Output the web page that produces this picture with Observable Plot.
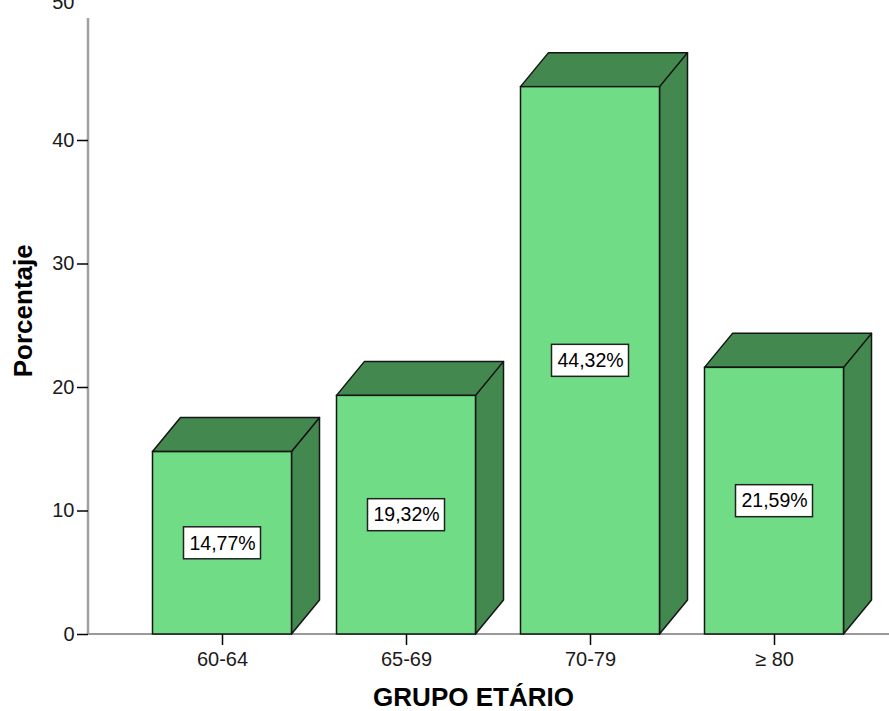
<!DOCTYPE html>
<html><head><meta charset="utf-8">
<script src="https://cdn.jsdelivr.net/npm/d3@7"></script>
<script src="https://cdn.jsdelivr.net/npm/@observablehq/plot@0.6"></script>
<style>body{margin:0;background:#fff;} #chart svg{overflow:hidden;display:block}</style>
</head><body><div id="chart"></div>
<script>
const categories = ["60-64", "65-69", "70-79", "≥ 80"];
const percentages = [14.77, 19.32, 44.32, 21.59];
const yTicks = [0, 10, 20, 30, 40];
const yTopTick = [50];
const xLabel = "GRUPO ETÁRIO";
const yLabel = "Porcentaje";

const data = categories.map((c, i) => ({grupo: c, pct: percentages[i]}));
const fmt = v => d3.format(".2f")(v).replace(".", ",") + "%";

const FRONT = "#70dc86", DARK = "#43894f", EDGE = "#151515";
const DX = 28, DY = 34, INSET = 22.5;
const FONT = "Arial, 'Liberation Sans', sans-serif";

function axisLines(index, scales, values, dims) {
  const {y} = scales;
  const g = d3.create("svg:g");
  g.append("line").attr("x1", dims.marginLeft).attr("x2", dims.width)
    .attr("y1", y(0)).attr("y2", y(0)).attr("stroke", "#9a9a9a").attr("stroke-width", 2);
  g.append("line").attr("x1", dims.marginLeft).attr("x2", dims.marginLeft)
    .attr("y1", y(50) + 1.5).attr("y2", y(0)).attr("stroke", "#a0a0a0").attr("stroke-width", 2.5);
  return g.node();
}

function faces(index, scales) {
  const {x, y} = scales;
  const bw = x.bandwidth();
  const g = d3.create("svg:g").attr("fill", DARK).attr("stroke", EDGE)
    .attr("stroke-width", 1.5).attr("stroke-linejoin", "round");
  const y0 = y(0);
  for (const d of data) {
    const x1 = x(d.grupo) + INSET, x2 = x(d.grupo) + bw - INSET, y1 = y(d.pct);
    g.append("path").attr("d", `M${x2},${y0}L${x2 + DX},${y0 - DY}L${x2 + DX},${y1 - DY}L${x2},${y1}Z`);
    g.append("path").attr("d", `M${x1},${y1}L${x1 + DX},${y1 - DY}L${x2 + DX},${y1 - DY}L${x2},${y1}Z`);
  }
  return g.node();
}

function boxes(index, scales) {
  const {x, y} = scales;
  const bw = x.bandwidth();
  const g = d3.create("svg:g").attr("fill", "#fff").attr("stroke", "#222").attr("stroke-width", 1.5);
  for (const d of data) {
    const cx = x(d.grupo) + bw / 2, cy = y(d.pct / 2);
    g.append("rect").attr("x", cx - 38.5).attr("y", cy - 16).attr("width", 77).attr("height", 32);
  }
  return g.node();
}

const chart = Plot.plot({
  width: 889,
  height: 711,
  marginLeft: 88,
  marginRight: 0,
  marginTop: 16.5,
  marginBottom: 77,
  style: {fontFamily: FONT, fontSize: "20px", color: "#000", background: "#fff"},
  x: {domain: categories, range: [129.5, 866.7], padding: 0},
  y: {domain: [0, 50]},
  marks: [
    axisLines,
    faces,
    Plot.barY(data, {x: "grupo", y: "pct", fill: FRONT, stroke: EDGE, strokeWidth: 1.5, insetLeft: INSET, insetRight: INSET}),
    boxes,
    Plot.text(data, {x: "grupo", y: d => d.pct / 2, text: d => fmt(d.pct), fontSize: 19.5, fill: "#000"}),
    Plot.axisY({ticks: yTicks, tickSize: 11, tickPadding: 3, label: null, fontSize: 20, stroke: "#000", strokeWidth: 1.5, fill: "#1a1a1a"}),
    Plot.text(yTopTick, {y: d => d, text: d => String(d), frameAnchor: "left", dx: -14, dy: -14, textAnchor: "end", fontSize: 20, fill: "#1a1a1a"}),
    Plot.axisX({tickSize: 11, tickPadding: 6, label: null, fontSize: 20, stroke: "#000", strokeWidth: 1.5, fill: "#1a1a1a"}),
    Plot.text([xLabel], {text: d => d, frameAnchor: "bottom", textAnchor: "middle", lineAnchor: "middle", dx: -15.5, dy: 63, fontWeight: "bold", fontSize: 26, fill: "#000"}),
    Plot.text([yLabel], {text: d => d, frameAnchor: "left", textAnchor: "middle", lineAnchor: "middle", rotate: -90, dx: -65, dy: -15, fontWeight: "bold", fontSize: 26, fill: "#000"})
  ]
});
document.getElementById("chart").appendChild(chart);
</script>
</body></html>
